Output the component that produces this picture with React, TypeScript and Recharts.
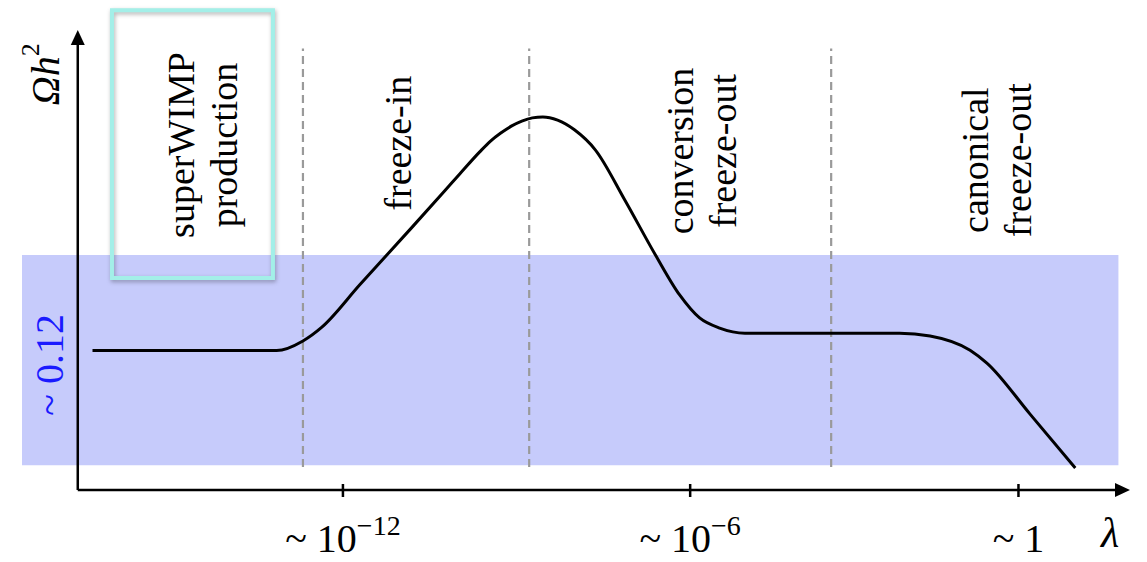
import {
  LineChart,
  Line,
  XAxis,
  YAxis,
  ReferenceArea,
  ReferenceLine,
  ReferenceDot,
} from "recharts";

const SERIF = '"Liberation Serif", "DejaVu Serif", serif';
const BAND_FILL = "#c6cbfb";
const BOX_STROKE = "#a3efe8";
const DASH = "#9a9a9a";

// relic abundance vs coupling (arbitrary sketch units)
const LAMBDA_POS = [1.4, 18.9, 21.4, 23.2, 26.8, 31.8, 34.9, 36.3, 38.2, 39.2, 40.2, 41.2, 42.2, 43.2, 44.2, 45.6, 47.2, 49.2, 52.0, 54.9, 57.2, 59.1, 61.0, 63.4, 78.1, 81.0, 84.8, 86.4, 90.5, 94.8];
const OMEGA_H2 = [30.3, 30.3, 32.4, 35.4, 44.6, 57.2, 65.1, 68.7, 73.5, 75.8, 77.6, 79.1, 80.2, 80.9, 81.1, 80.4, 78.3, 73.9, 63.0, 51.1, 42.4, 37.4, 35.2, 34.1, 34.1, 33.5, 30.4, 27.6, 16.5, 4.8];

const TICK_POS = [25.2, 58.2, 89.4];
const TICK_BASE = ["10", "10", "1"];
const TICK_EXP = ["\u221212", "\u22126", ""];

const REGION_EDGES = [21.4, 42.9, 71.6];
const BAND_Y = [5.4, 51.1];
const BAND_X = [-5.3, 98.9];
const BOX_X = [3.25, 18.55];
const BOX_Y = [46.1, 104.3];

const REGION_LABELS = [
  ["superWIMP", "production"],
  ["freeze-in"],
  ["conversion", "freeze-out"],
  ["canonical", "freeze-out"],
];
const REGION_LABEL_X = [11.9, 30.4, 59.3, 87.3];
const REGION_LABEL_Y = [75, 75.4, 73.7, 71.7];

const data = LAMBDA_POS.map((x, i) => ({ x, y: OMEGA_H2[i] }));

// ── axis arrow ───────────────────────────────────────────────────────────────
const Arrow = (props: any) => {
  const { x1, y1, x2, y2 } = props;
  const dx = x2 - x1;
  const dy = y2 - y1;
  const len = Math.hypot(dx, dy) || 1;
  const ux = dx / len;
  const uy = dy / len;
  const L = 15;
  const W = 7;
  const bx = x2 - ux * L;
  const by = y2 - uy * L;
  return (
    <g>
      <line x1={x1} y1={y1} x2={bx + ux * 2} y2={by + uy * 2} stroke="#000" strokeWidth={2.5} />
      <polygon
        points={`${x2},${y2} ${bx - uy * W},${by + ux * W} ${bx + uy * W},${by - ux * W}`}
        fill="#000"
      />
    </g>
  );
};

// ── rotated text at a reference dot ─────────────────────────────────────────
const rotated =
  (lines: string[], color = "#000", size = 38, spacing = 43) =>
  (props: any) => {
    const { cx, cy } = props;
    return (
      <g>
        {lines.map((t, i) => {
          const x = cx + (i - (lines.length - 1) / 2) * spacing;
          return (
            <text
              key={i}
              x={x}
              y={cy}
              transform={`rotate(-90 ${x} ${cy})`}
              textAnchor="middle"
              dominantBaseline="central"
              fontSize={size}
              style={{ fontFamily: SERIF }}
              fill={color}
            >
              {t}
            </text>
          );
        })}
      </g>
    );
  };

const OmegaLabel = (props: any) => {
  const { cx, cy } = props;
  return (
    <text
      x={cx}
      y={cy}
      transform={`rotate(-90 ${cx} ${cy})`}
      textAnchor="middle"
      dominantBaseline="central"
      fontSize={40}
      style={{ fontFamily: SERIF }}
      fontStyle="italic"
    >
      Ωh
      <tspan dy={-15} fontSize={26} fontStyle="normal">
        2
      </tspan>
    </text>
  );
};

const LambdaTick = (props: any) => {
  const { x, y, payload } = props;
  const i = TICK_POS.indexOf(payload.value);
  return (
    <g>
      <line x1={x} x2={x} y1={y - 6} y2={y + 7} stroke="#000" strokeWidth={2.5} />
      <text x={x} y={y + 62} textAnchor="middle" fontSize={40} style={{ fontFamily: SERIF }}>
        {"~ " + TICK_BASE[i]}
        {TICK_EXP[i] && (
          <tspan dy={-17} fontSize={28}>
            {TICK_EXP[i]}
          </tspan>
        )}
      </text>
    </g>
  );
};

const LambdaLabel = (props: any) => {
  const { viewBox } = props;
  return (
    <text
      x={viewBox.x + viewBox.width - 20}
      y={viewBox.y + 57}
      textAnchor="middle"
      fontSize={42}
      style={{ fontFamily: SERIF }}
      fontStyle="italic"
    >
      λ
    </text>
  );
};

export default function App() {
  return (
    <div style={{ position: "absolute", left: 0, top: 0, width: 1147, height: 562, background: "#fff" }}>
      <LineChart width={1147} height={562} data={data} margin={{ top: 7, right: 17, bottom: 0, left: 22 }}>
        <XAxis
          dataKey="x"
          type="number"
          domain={[-5.3, 100]}
          allowDataOverflow
          ticks={TICK_POS}
          interval={0}
          tick={<LambdaTick />}
          axisLine={false}
          tickLine={false}
          tickSize={0}
          tickMargin={0}
          height={72}
          label={<LambdaLabel />}
        />
        <YAxis hide type="number" domain={[0, 105]} allowDataOverflow />

        <ReferenceArea x1={BAND_X[0]} x2={BAND_X[1]} y1={BAND_Y[0]} y2={BAND_Y[1]} fill={BAND_FILL} fillOpacity={1} stroke="none" />

        {REGION_EDGES.map((e) => (
          <ReferenceLine
            key={e}
            segment={[{ x: e, y: 5 }, { x: e, y: 96 }]}
            stroke={DASH}
            strokeWidth={2.2}
            strokeDasharray="8 5"
          />
        ))}

        <ReferenceArea
          x1={BOX_X[0]}
          x2={BOX_X[1]}
          y1={BOX_Y[0]}
          y2={BOX_Y[1]}
          fill="none"
          fillOpacity={0}
          stroke={BOX_STROKE}
          strokeWidth={4}
          style={{ filter: "drop-shadow(1px 2px 2px rgba(0,0,0,0.3))" }}
        />

        {REGION_LABELS.map((lines, i) => (
          <ReferenceDot key={i} x={REGION_LABEL_X[i]} y={REGION_LABEL_Y[i]} r={0} shape={rotated(lines)} />
        ))}
        <ReferenceDot x={-2.64} y={27.2} r={0} shape={rotated(["~ 0.12"], "#1a1aff", 40)} />
        <ReferenceDot x={-3.1} y={90.4} r={0} shape={<OmegaLabel />} />

        <Line type="monotone" dataKey="y" stroke="#000" strokeWidth={3} dot={false} isAnimationActive={false} />

        <ReferenceLine segment={[{ x: 0, y: 0 }, { x: 0, y: 100 }]} shape={<Arrow />} />
        <ReferenceLine segment={[{ x: 0, y: 0 }, { x: 100, y: 0 }]} shape={<Arrow />} />
      </LineChart>
    </div>
  );
}
